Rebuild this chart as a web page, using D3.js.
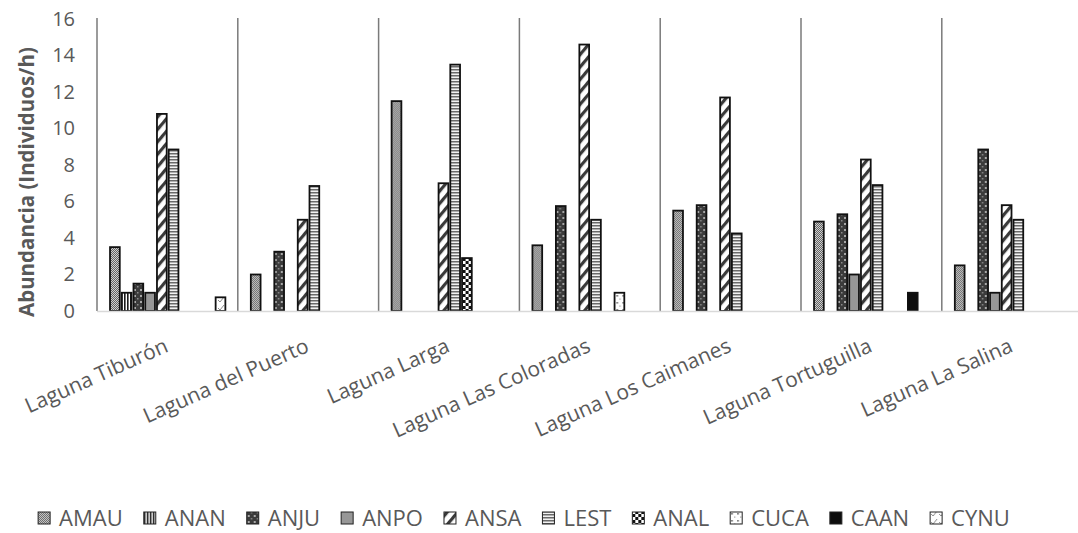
<!DOCTYPE html>
<html>
<head>
<meta charset="utf-8">
<script src="https://cdn.jsdelivr.net/npm/d3@7"></script>
<style>
  html, body { margin: 0; padding: 0; background: #fff; }
  svg { display: block; font-family: "Open Sans", "Noto Sans", sans-serif; }
</style>
</head>
<body>
<svg id="chart" width="1078" height="533"></svg>
<script>
// Lagunas (categories) and species (series)
const lagunas = ["Laguna Tiburón", "Laguna del Puerto", "Laguna Larga", "Laguna Las Coloradas",
                 "Laguna Los Caimanes", "Laguna Tortuguilla", "Laguna La Salina"];
const especies = ["AMAU", "ANAN", "ANJU", "ANPO", "ANSA", "LEST", "ANAL", "CUCA", "CAAN", "CYNU"];

// Abundance (individuos/h) per species, one value per laguna
const AMAU = [3.5, 2.0, 11.5, 3.6, 5.5, 4.9, 2.5];
const ANAN = [1.0, 0, 0, 0, 0, 0, 0];
const ANJU = [1.5, 3.25, 0, 5.75, 5.8, 5.3, 8.85];
const ANPO = [1.0, 0, 0, 0, 0, 2.0, 1.0];
const ANSA = [10.8, 5.0, 7.0, 14.6, 11.7, 8.3, 5.8];
const LEST = [8.85, 6.85, 13.5, 5.0, 4.25, 6.9, 5.0];
const ANAL = [0, 0, 2.9, 0, 0, 0, 0];
const CUCA = [0, 0, 0, 1.0, 0, 0, 0];
const CAAN = [0, 0, 0, 0, 0, 1.0, 0];
const CYNU = [0.75, 0, 0, 0, 0, 0, 0];

const yTicks = [0, 2, 4, 6, 8, 10, 12, 14, 16];

const seriesValues = { AMAU, ANAN, ANJU, ANPO, ANSA, LEST, ANAL, CUCA, CAAN, CYNU };

const svg = d3.select("#chart");
const textColor = "#595959";

// ---- fill patterns ----
const defs = svg.append("defs");
function pattern(id, w, h, draw, transform) {
  const p = defs.append("pattern").attr("id", id)
    .attr("patternUnits", "userSpaceOnUse").attr("width", w).attr("height", h);
  if (transform) p.attr("patternTransform", transform);
  draw(p);
}
pattern("p-AMAU", 2, 2, p => {
  p.append("rect").attr("width", 2).attr("height", 2).attr("fill", "#d0d0d0");
  p.append("rect").attr("width", 1).attr("height", 1).attr("fill", "#626262");
  p.append("rect").attr("x", 1).attr("y", 1).attr("width", 1).attr("height", 1).attr("fill", "#626262");
});
pattern("p-ANAN", 3, 3, p => {
  p.append("rect").attr("width", 3).attr("height", 3).attr("fill", "#fff");
  p.append("rect").attr("width", 1.6).attr("height", 3).attr("fill", "#1a1a1a");
});
pattern("p-ANJU", 6, 6, p => {
  p.append("rect").attr("width", 6).attr("height", 6).attr("fill", "#3b3b3b");
  p.append("rect").attr("x", 1).attr("y", 1).attr("width", 2).attr("height", 2).attr("fill", "#a8a8a8");
  p.append("rect").attr("x", 4).attr("y", 4).attr("width", 1.5).attr("height", 1.5).attr("fill", "#8a8a8a");
});
pattern("p-ANSA", 8, 8, p => {
  p.append("rect").attr("width", 8).attr("height", 8).attr("fill", "#fff");
  p.append("rect").attr("width", 3.2).attr("height", 8).attr("fill", "#3a3a3a");
}, "rotate(40)");
pattern("p-LEST", 3, 3, p => {
  p.append("rect").attr("width", 3).attr("height", 3).attr("fill", "#f2f2f2");
  p.append("rect").attr("width", 3).attr("height", 1.5).attr("fill", "#6a6a6a");
});
pattern("p-ANAL", 6, 6, p => {
  p.append("rect").attr("width", 6).attr("height", 6).attr("fill", "#fff");
  p.append("rect").attr("width", 3).attr("height", 3).attr("fill", "#111");
  p.append("rect").attr("x", 3).attr("y", 3).attr("width", 3).attr("height", 3).attr("fill", "#111");
});
pattern("p-CUCA", 6, 7, p => {
  p.append("rect").attr("width", 6).attr("height", 7).attr("fill", "#fff");
  p.append("rect").attr("x", 1).attr("y", 1).attr("width", 1.6).attr("height", 1.6).attr("fill", "#666");
  p.append("rect").attr("x", 4).attr("y", 4.5).attr("width", 1.2).attr("height", 1.2).attr("fill", "#999");
});
pattern("p-CYNU", 8, 8, p => {
  p.append("rect").attr("width", 8).attr("height", 8).attr("fill", "#fff");
  p.append("path").attr("d", "M1,4 L3,6 L7,1").attr("fill", "none")
    .attr("stroke", "#8a8a8a").attr("stroke-width", 1);
});

const fills = {
  AMAU: "url(#p-AMAU)", ANAN: "url(#p-ANAN)", ANJU: "url(#p-ANJU)", ANPO: "#979797",
  ANSA: "url(#p-ANSA)", LEST: "url(#p-LEST)", ANAL: "url(#p-ANAL)", CUCA: "url(#p-CUCA)",
  CAAN: "#0d0d0d", CYNU: "url(#p-CYNU)"
};

// ---- scales ----
const plotLeft = 97, groupW = 140.8;
const plotRight = plotLeft + groupW * lagunas.length;
const y0 = 311, y1 = 19;

const x = d3.scaleBand().domain(lagunas).range([plotLeft, plotRight]).padding(0);
const xs = d3.scaleBand().domain(especies).range([0, x.bandwidth()])
  .paddingInner(0).paddingOuter(1);
const y = d3.scaleLinear().domain([0, 16]).range([y0, y1]);

// ---- y axis (labels only) ----
const yAxis = svg.append("g").attr("transform", `translate(${plotLeft},0)`)
  .call(d3.axisLeft(y).tickValues(yTicks).tickSize(0).tickPadding(22));
yAxis.select(".domain").remove();
yAxis.selectAll("text").attr("fill", textColor).style("font-size", "20px")
  .style("font-family", "'Open Sans', sans-serif");

svg.append("text")
  .attr("transform", `translate(34,${(y0 + y1) / 2 + 17}) rotate(-90)`)
  .attr("text-anchor", "middle")
  .attr("fill", textColor)
  .style("font-size", "20.5px").style("font-weight", "bold")
  .text("Abundancia (Individuos/h)");

// ---- group separators ----
const bounds = lagunas.map(l => x(l)).concat([plotRight]);
svg.append("g").selectAll("line").data(bounds).join("line")
  .attr("x1", d => d).attr("x2", d => d)
  .attr("y1", y(16) - 1).attr("y2", y(0))
  .attr("stroke", "#7a7a7a").attr("stroke-width", 1.5);

// ---- bars ----
const barGroups = svg.append("g").selectAll("g").data(lagunas).join("g")
  .attr("transform", d => `translate(${x(d)},0)`);
barGroups.selectAll("rect")
  .data((l, i) => especies.map(s => ({ s, v: seriesValues[s][i] })).filter(d => d.v > 0))
  .join("rect")
  .attr("x", d => xs(d.s) + 1.3)
  .attr("width", xs.bandwidth() - 2)
  .attr("y", d => y(d.v))
  .attr("height", d => y(0) - y(d.v))
  .attr("fill", d => fills[d.s])
  .attr("stroke", "#111").attr("stroke-width", 1.8);

// ---- baseline ----
svg.append("line").attr("x1", plotLeft).attr("x2", 1078)
  .attr("y1", y0 + 0.5).attr("y2", y0 + 0.5)
  .attr("stroke", "#d9d9d9").attr("stroke-width", 1.5);

// ---- category labels ----
svg.append("g").selectAll("text").data(lagunas).join("text")
  .attr("transform", d => `translate(${x(d) + x.bandwidth() / 2 + 2},${y0 + 40}) rotate(-24)`)
  .attr("text-anchor", "end")
  .attr("fill", textColor)
  .style("font-size", "21px")
  .text(d => d);

// ---- legend ----
const legend = svg.append("g");
const iconGap = 21, itemGap = 21;
let cx = 0;
especies.forEach(s => {
  const g = legend.append("g");
  g.append("rect").attr("x", 0).attr("y", -14).attr("width", 12).attr("height", 12)
    .attr("fill", fills[s]).attr("stroke", "#222").attr("stroke-width", 1);
  const t = g.append("text").attr("x", iconGap).attr("y", 0).attr("fill", textColor)
    .style("font-size", "22px").text(s);
  const w = iconGap + t.node().getComputedTextLength();
  g.attr("transform", `translate(${cx},0)`);
  cx += w + itemGap;
});
const legendW = cx - itemGap;
legend.attr("transform", `translate(${(40 + 1008) / 2 - legendW / 2},526)`);
</script>
</body>
</html>
